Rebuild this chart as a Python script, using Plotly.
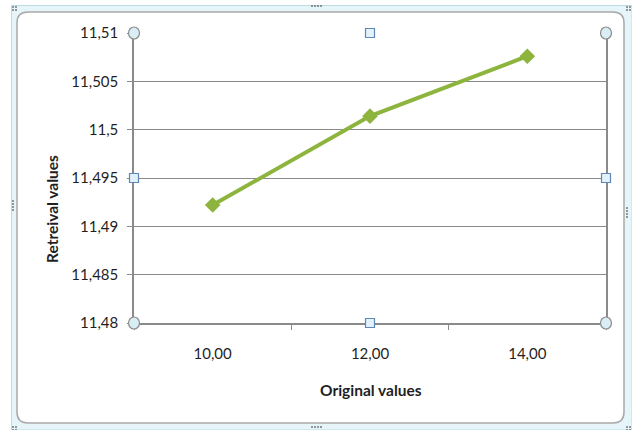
import plotly.graph_objects as go

# Measured data
original_values = [10, 12, 14]
retrieval_values = [11.4922, 11.5014, 11.5076]
x_labels = ["10,00", "12,00", "14,00"]
y_ticks = [11.48, 11.485, 11.49, 11.495, 11.5, 11.505, 11.51]
y_tick_labels = ["11,48", "11,485", "11,49", "11,495", "11,5", "11,505", "11,51"]
x_title = "Original values"
y_title = "Retreival values"

W_FIG, H_FIG = 632, 430
L, R, T, B = 134, 606, 33, 323          # plot area in pixels
PW, PH = R - L, B - T

FONT = "Lato, 'Open Sans', sans-serif"
TEXT = "#1f1f1f"
GRID = "#8a8a8a"
GREEN = "#8db43c"


def px(x):
    return (x - L) / PW


def py(y):
    return (B - y) / PH


fig = go.Figure()
fig.add_trace(go.Scatter(
    x=x_labels,
    y=retrieval_values,
    mode="lines+markers",
    line=dict(color=GREEN, width=4),
    marker=dict(symbol="diamond", size=12, color=GREEN),
    customdata=original_values,
    hovertemplate="%{customdata}: %{y}<extra></extra>",
    showlegend=False,
    cliponaxis=False,
))

shapes = []

# chart-object selection frame (light cyan band)
shapes.append(dict(type="rect", xref="paper", yref="paper", layer="below",
                   x0=px(11.5), x1=px(632), y0=py(5.5), y1=py(430),
                   fillcolor="#e6f5fa", line=dict(color="#bcdbe5", width=1)))

# rounded white chart area
x0, x1, y0, y1, r = 17, 624, 12, 423, 11


def P(x, y):
    return f"{px(x):.5f},{py(y):.5f}"


path = (f"M {P(x0 + r, y0)} L {P(x1 - r, y0)} Q {P(x1, y0)} {P(x1, y0 + r)} "
        f"L {P(x1, y1 - r)} Q {P(x1, y1)} {P(x1 - r, y1)} "
        f"L {P(x0 + r, y1)} Q {P(x0, y1)} {P(x0, y1 - r)} "
        f"L {P(x0, y0 + r)} Q {P(x0, y0)} {P(x0 + r, y0)} Z")
shapes.append(dict(type="path", xref="paper", yref="paper", layer="below",
                   path=path, fillcolor="white",
                   line=dict(color="#a9a9a9", width=1.5)))

# grip dots on the selection frame
dots = []
for cx, cy in [(13, 7), (627, 7), (13, 427), (627, 427)]:
    for dx in (0, 3):
        for dy in (0, 3):
            dots.append((cx + dx, cy + dy))
for i in range(4):
    dots.append((312 + 3 * i, 6))
    dots.append((312 + 3 * i, 427))
    dots.append((13, 201 + 3 * i))
    dots.append((627, 208 + 3 * i))
for dx, dy in dots:
    shapes.append(dict(type="rect", xref="paper", yref="paper", layer="above",
                       x0=px(dx - 0.8), x1=px(dx + 0.8), y0=py(dy - 0.8), y1=py(dy + 0.8),
                       fillcolor="#5a5a5a", line=dict(width=0)))

# plot-area selection handles: circles at corners, squares at edge midpoints
for hx, hy in [(L, T), (R, T), (L, B), (R, B)]:
    shapes.append(dict(type="circle", xref="paper", yref="paper", layer="above",
                       x0=px(hx - 5.5), x1=px(hx + 5.5), y0=py(hy - 6), y1=py(hy + 6),
                       fillcolor="#d8eef4", line=dict(color="#8c8c8c", width=1.2)))
for hx, hy in [((L + R) / 2, T), ((L + R) / 2, B), (L, (T + B) / 2), (R, (T + B) / 2)]:
    shapes.append(dict(type="rect", xref="paper", yref="paper", layer="above",
                       x0=px(hx - 4.5), x1=px(hx + 4.5), y0=py(hy - 4.5), y1=py(hy + 4.5),
                       fillcolor="#e2f2fb", line=dict(color="#5f87b8", width=1.2)))

annotations = [
    dict(text=f"<b>{x_title}</b>", xref="paper", yref="paper",
         x=px(371), y=py(390), showarrow=False, xanchor="center", yanchor="middle",
         font=dict(size=15.5, color=TEXT)),
    dict(text=f"<b>{y_title}</b>", xref="paper", yref="paper", textangle=-90,
         x=px(52), y=py(209), showarrow=False, xanchor="center", yanchor="middle",
         font=dict(size=15.5, color=TEXT)),
]

fig.update_layout(
    width=W_FIG, height=H_FIG,
    margin=dict(l=L, r=W_FIG - R, t=T, b=H_FIG - B, pad=0),
    paper_bgcolor="white",
    plot_bgcolor="rgba(0,0,0,0)",
    font=dict(family=FONT, size=15, color=TEXT),
    shapes=shapes,
    annotations=annotations,
    xaxis=dict(
        type="category",
        categoryorder="array", categoryarray=x_labels,
        range=[-0.5, 2.5],
        tickson="boundaries",
        ticks="outside", ticklen=5, tickcolor=GRID, tickwidth=1.2,
        showline=True, linecolor=GRID, linewidth=1.5, mirror=False,
        showgrid=False, zeroline=False,
        ticklabelstandoff=16,
        tickfont=dict(size=15, color=TEXT),
    ),
    yaxis=dict(
        range=[11.48, 11.51],
        tickmode="array", tickvals=y_ticks, ticktext=y_tick_labels,
        ticks="outside", ticklen=5, tickcolor=GRID, tickwidth=1.2,
        showline=True, linecolor=GRID, linewidth=1.5, mirror=True,
        showgrid=True, gridcolor=GRID, gridwidth=1.2,
        zeroline=False,
        ticklabelstandoff=6,
        tickfont=dict(size=15, color=TEXT),
    ),
)

fig.write_html("out.html")
